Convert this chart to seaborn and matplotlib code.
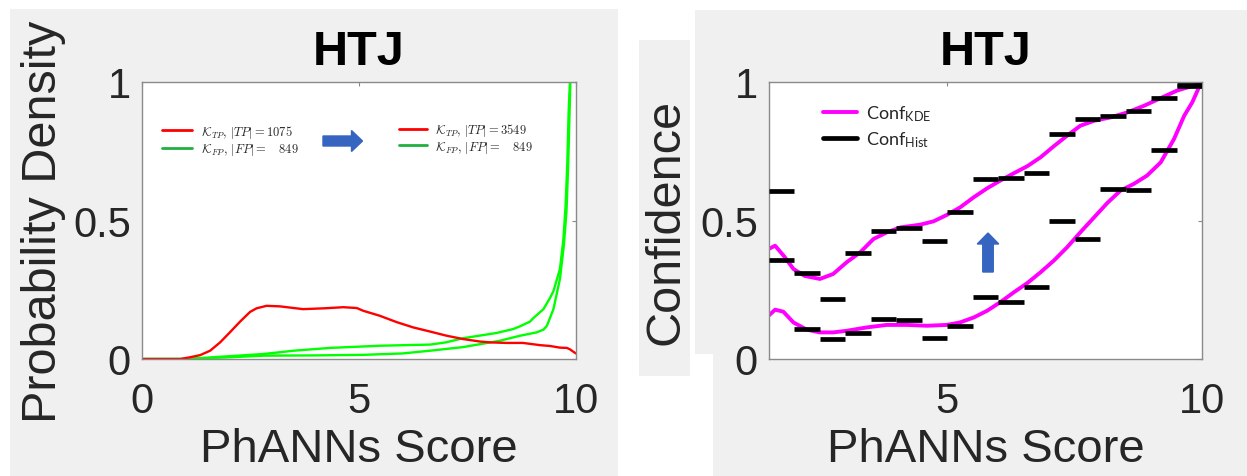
import matplotlib
matplotlib.use("Agg")
import matplotlib.pyplot as plt
import matplotlib.patches as mpatches
from matplotlib.lines import Line2D
from matplotlib.font_manager import FontProperties
import seaborn as sns

# ---- left panel: probability densities ----
red_x = [0, 0.5, 0.88, 1.1, 1.34, 1.57, 1.8, 2.03, 2.26, 2.49, 2.64, 2.87, 3.18, 3.71, 4.2, 4.64,
         4.95, 5.1, 5.48, 5.87, 6.25, 6.64, 7.02, 7.4, 7.79, 8.02, 8.4, 8.78, 9.17, 9.4, 9.63,
         9.79, 9.86, 9.95, 10]
red_y = [0, 0, 0, 0.006, 0.014, 0.03, 0.06, 0.097, 0.135, 0.17, 0.183, 0.192, 0.19, 0.18, 0.183, 0.187,
         0.184, 0.174, 0.156, 0.133, 0.114, 0.099, 0.084, 0.072, 0.063, 0.06, 0.058, 0.058, 0.05, 0.047, 0.041,
         0.04, 0.035, 0.025, 0.02]

green1_x = [0, 1.0, 1.5, 2.0, 2.8, 3.5, 4.33, 5.5, 6.64, 7.0, 7.4, 8.17, 8.55, 8.71, 8.94, 9.02,
            9.25, 9.4, 9.48, 9.63, 9.71, 9.76, 9.80, 9.83, 9.86, 9.87]
green1_y = [0, 0, 0.005, 0.01, 0.018, 0.03, 0.04, 0.048, 0.052, 0.06, 0.075, 0.094, 0.108, 0.118, 0.135, 0.148,
            0.18, 0.22, 0.245, 0.325, 0.433, 0.553, 0.71, 0.89, 1.0, 1.1]

green2_x = [0, 1.0, 1.5, 2.0, 2.8, 4.0, 5.1, 6.0, 6.64, 7.4, 8.25, 8.71, 9.09, 9.25, 9.33,
            9.48, 9.63, 9.72, 9.78, 9.82, 9.85, 9.87, 9.88]
green2_y = [0, 0, 0.003, 0.006, 0.012, 0.013, 0.015, 0.02, 0.03, 0.043, 0.066, 0.084, 0.096, 0.106, 0.12,
            0.18, 0.289, 0.41, 0.53, 0.70, 0.88, 1.0, 1.1]

# ---- right panel: confidence ----
kde_hi_x = [1.49, 1.62, 1.80, 1.98, 2.2, 2.5, 2.76, 3.03, 3.29, 3.55, 3.81, 4.08, 4.47, 4.73, 4.99,
            5.25, 5.52, 5.78, 6.04, 6.30, 6.57, 6.83, 7.09, 7.35, 7.61, 7.88, 8.2, 8.53, 8.86,
            9.19, 9.51, 9.78, 9.97]
kde_hi_y = [0.397, 0.409, 0.37, 0.325, 0.30, 0.289, 0.307, 0.35, 0.385, 0.433, 0.457, 0.475, 0.485, 0.497, 0.52,
            0.547, 0.584, 0.616, 0.644, 0.67, 0.696, 0.728, 0.768, 0.806, 0.842, 0.86, 0.872, 0.89, 0.914,
            0.942, 0.969, 0.984, 0.993]

kde_lo_x = [1.49, 1.62, 1.78, 1.98, 2.24, 2.5, 2.76, 3.03, 3.42, 3.81, 4.21, 4.6, 4.99, 5.25, 5.52,
            5.78, 6.04, 6.3, 6.57, 6.83, 7.09, 7.35, 7.61, 7.88, 8.14, 8.4, 8.66, 8.92, 9.19,
            9.45, 9.65, 9.81, 9.97]
kde_lo_y = [0.156, 0.178, 0.171, 0.132, 0.106, 0.096, 0.096, 0.102, 0.114, 0.123, 0.123, 0.12, 0.123, 0.132, 0.15,
            0.174, 0.205, 0.24, 0.274, 0.313, 0.355, 0.403, 0.457, 0.511, 0.563, 0.608, 0.632, 0.662, 0.71,
            0.794, 0.878, 0.927, 0.993]

bin_left = [1.5, 2.0, 2.5, 3.0, 3.5, 4.0, 4.5, 5.0, 5.5, 6.0, 6.5, 7.0, 7.5, 8.0, 8.5, 9.0, 9.5]
bin_right = [2.0, 2.5, 3.0, 3.5, 4.0, 4.5, 5.0, 5.5, 6.0, 6.5, 7.0, 7.5, 8.0, 8.5, 9.0, 9.5, 10.0]
hist_a = [0.608, 0.309, 0.217, 0.384, 0.463, 0.473, 0.427, 0.531, 0.650, 0.655, 0.670, 0.813,
          0.866, 0.878, 0.894, 0.942, 0.987]
hist_b = [0.357, 0.108, 0.072, 0.094, 0.146, 0.142, 0.075, 0.118, 0.224, 0.207, 0.261, 0.499,
          0.432, 0.614, 0.609, 0.756, 0.990]

sns.set_style('white')
plt.rcParams['font.family'] = ['Liberation Sans', 'DejaVu Sans']
plt.rcParams['mathtext.fontset'] = 'custom'
plt.rcParams['mathtext.rm'] = 'Lato'
plt.rcParams['mathtext.it'] = 'Lato:italic'

W, H = 1247, 477
fig = plt.figure(figsize=(W / 100, H / 100), dpi=100, facecolor='white')

# grey panel backgrounds (pixel boxes -> inches)
GREY = '#f0f0f0'
for (x0, y0, x1, y1) in [(10, 10, 618, 477), (695, 11, 1247, 355), (713, 355, 1247, 477), (639, 41, 690, 377)]:
    fig.patches.append(mpatches.Rectangle((x0 / 100, (H - y1) / 100), (x1 - x0) / 100, (y1 - y0) / 100,
                                          transform=fig.dpi_scale_trans, facecolor=GREY,
                                          edgecolor='none', zorder=-10))


def px_axes(x0, y0, x1, y1):
    return fig.add_axes([x0 / W, (H - y1) / H, (x1 - x0) / W, (y1 - y0) / H])


def style_axes(ax):
    ax.set_facecolor('white')
    for s in ax.spines.values():
        s.set_visible(True)
        s.set_color('#8a8a8a')
        s.set_linewidth(1.0)
    ax.tick_params(direction='in', length=3, width=0.8, color='#8a8a8a',
                   top=True, right=True, labelsize=30, labelcolor='#262626')
    ax.tick_params(axis='x', pad=16)
    ax.tick_params(axis='y', pad=8)
    ax.set_title('HTJ', fontsize=35, fontweight='bold', color='black', pad=13)
    ax.set_xlabel('PhANNs Score', fontsize=34, color='#262626', labelpad=4)


# ---------------- left ----------------
ax1 = px_axes(142, 83, 576, 360)
sns.lineplot(x=green1_x, y=green1_y, ax=ax1, color='#00ff00', lw=1.7)
sns.lineplot(x=green2_x, y=green2_y, ax=ax1, color='#00ff00', lw=1.7)
sns.lineplot(x=red_x, y=red_y, ax=ax1, color='#ff0000', lw=1.7)
ax1.set_xlim(0, 10)
ax1.set_ylim(0, 1)
ax1.set_xticks([0, 5, 10])
ax1.set_yticks([0, 0.5, 1])
ax1.set_xticklabels(['0', '5', '10'])
ax1.set_yticklabels(['0', '0.5', '1'])
style_axes(ax1)
ax1.set_ylabel('Probability Density', fontsize=35, color='#262626')
ax1.yaxis.set_label_coords(-0.175, 0.5)

cm_prop = FontProperties(size=9, math_fontfamily='cm')
leg_green = '#20b040'
h_a = [Line2D([], [], color='#ff0000', lw=2), Line2D([], [], color=leg_green, lw=2)]
leg1 = ax1.legend(h_a, [r'$\mathcal{K}_{TP},\, |TP| = 1075$', r'$\mathcal{K}_{FP},\, |FP| =\ \ \ 849$'],
                  loc='center left', bbox_to_anchor=(162 / W, (H - 141) / H), bbox_transform=fig.transFigure,
                  frameon=False, prop=cm_prop, handlelength=2.4, handletextpad=0.7,
                  borderpad=0, borderaxespad=0, labelspacing=0.15)
ax1.add_artist(leg1)
ax1.legend(h_a, [r'$\mathcal{K}_{TP},\, |TP| = 3549$', r'$\mathcal{K}_{FP},\, |FP| =\ \ \ 849$'],
           loc='center left', bbox_to_anchor=(399 / W, (H - 139) / H), bbox_transform=fig.transFigure,
           frameon=False, prop=cm_prop, handlelength=2.2, handletextpad=0.7,
           borderpad=0, borderaxespad=0, labelspacing=0.05)

# ---------------- right ----------------
ax2 = px_axes(769, 83, 1202, 360)
ax2.hlines(hist_a, bin_left, bin_right, color='black', lw=3.4, zorder=3)
ax2.hlines(hist_b, bin_left, bin_right, color='black', lw=3.4, zorder=3)
sns.lineplot(x=kde_hi_x, y=kde_hi_y, ax=ax2, color='#ff00ff', lw=2.8, zorder=2)
sns.lineplot(x=kde_lo_x, y=kde_lo_y, ax=ax2, color='#ff00ff', lw=2.8, zorder=2)
ax2.set_xlim(1.5, 10)
ax2.set_ylim(0, 1)
ax2.set_xticks([5, 10])
ax2.set_yticks([0, 0.5, 1])
ax2.set_xticklabels(['5', '10'])
ax2.set_yticklabels(['0', '0.5', '1'])
style_axes(ax2)
ax2.set_ylabel('Confidence', fontsize=35, color='#262626')
ax2.yaxis.set_label_coords(-0.185, 0.5)

h_b = [Line2D([], [], color='#ff00ff', lw=2.8), Line2D([], [], color='black', lw=3.4)]
ax2.legend(h_b, [r'Conf$_{\mathrm{KDE}}$', r'Conf$_{\mathrm{Hist}}$'],
           loc='center left', bbox_to_anchor=(823 / W, (H - 127) / H), bbox_transform=fig.transFigure,
           frameon=False, prop=FontProperties(family='Lato', size=13), handlelength=1.9,
           handletextpad=0.5, borderpad=0, borderaxespad=0, labelspacing=0.35)

# blue arrows (pixel coords -> inches)
BLUE = '#3565c0'
fig.patches.append(mpatches.FancyArrow(323 / 100, (H - 142) / 100, 39.5 / 100, 0, width=10 / 100,
                                       head_width=21 / 100, head_length=11 / 100, length_includes_head=True,
                                       transform=fig.dpi_scale_trans, color=BLUE, zorder=5))
fig.patches.append(mpatches.FancyArrow(988 / 100, (H - 273) / 100, 0, 39 / 100, width=10.5 / 100,
                                       head_width=21.5 / 100, head_length=11 / 100, length_includes_head=True,
                                       transform=fig.dpi_scale_trans, color=BLUE, zorder=5))

fig.savefig('out.png', dpi=100, facecolor='white')
